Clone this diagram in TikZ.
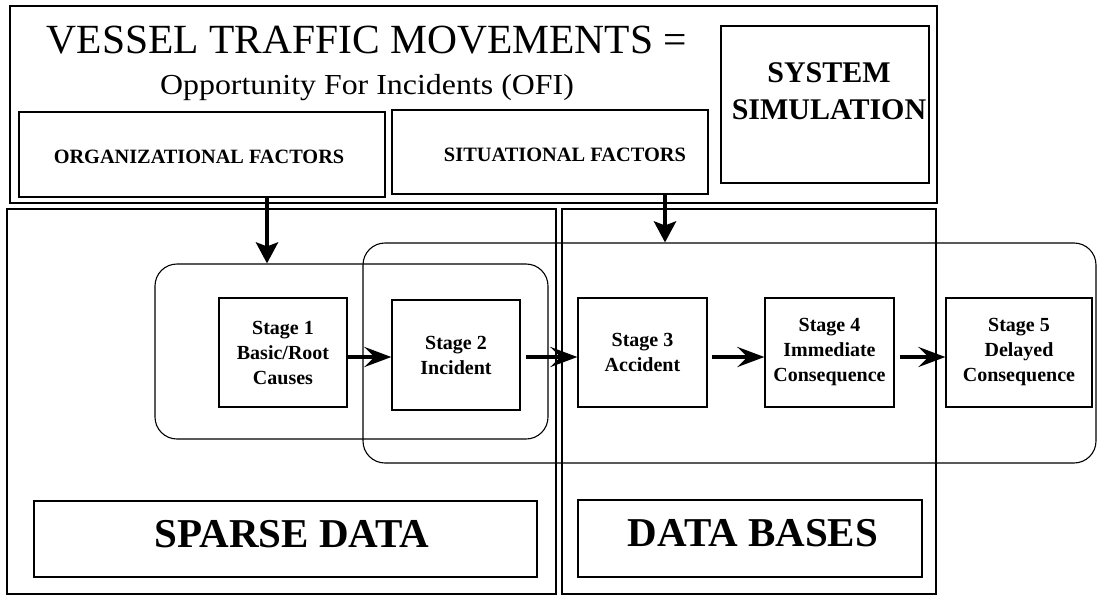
\documentclass[tikz,border=0pt]{standalone}
\usepackage{fontspec}
\usepackage{graphicx}
\setmainfont{Liberation Serif}
\usetikzlibrary{arrows.meta}
\begin{document}
\begin{tikzpicture}[x=1pt,y=-1pt,
  frame/.style={draw, line width=1.1pt, inner sep=0pt},
  group/.style={draw, line width=1.1pt, rounded corners=22pt, inner sep=0pt},
  stagebox/.style={draw, line width=1.2pt, inner sep=0pt, minimum height=109pt,
    align=center, font=\fontsize{20}{25}\selectfont\bfseries},
  caption/.style={inner sep=0pt, anchor=base},
  flow/.style={line width=4.5pt, -{Stealth[length=27pt,width=20pt,inset=10pt]}},
  feed/.style={line width=4.5pt, -{Stealth[length=21pt,width=22pt,inset=4pt]}}]
\useasboundingbox (0,0) rectangle (1098,597);

% upper panel
\node[frame, minimum width=927pt, minimum height=197pt] (top) at (473.5,104.5) {};
\node[caption, font=\fontsize{41.5}{41.5}\selectfont] (title) at (367,53) {VESSEL TRAFFIC MOVEMENTS =};
\node[caption, font=\fontsize{29}{29}\selectfont] (subtitle) at (367,94) {\scalebox{1.1}[1]{Opportunity For Incidents (OFI)}};
\node[frame, minimum width=208pt, minimum height=157pt] (sim) at (825,104.5) {};
\node[caption, font=\fontsize{30}{30}\selectfont\bfseries] (simA) at (829,82) {SYSTEM};
\node[caption, font=\fontsize{30}{30}\selectfont\bfseries] (simB) at (829,119) {SIMULATION};
\node[frame, minimum width=366pt, minimum height=85pt] (org) at (202,154.5) {};
\node[caption, font=\fontsize{20.3}{20.3}\selectfont\bfseries] (orgtext) at (199,163) {ORGANIZATIONAL FACTORS};
\node[frame, minimum width=316pt, minimum height=84pt] (sit) at (550,152) {};
\node[caption, font=\fontsize{20.4}{20.4}\selectfont\bfseries] (sittext) at (565,161) {SITUATIONAL FACTORS};

% lower panels
\node[frame, minimum width=549pt, minimum height=385pt] (left) at (281.5,401.5) {};
\node[frame, minimum width=374pt, minimum height=385pt] (right) at (749,401.5) {};
\node[frame, minimum width=503pt, minimum height=76pt] (sparse) at (285.5,539) {};
\node[caption, font=\fontsize{41}{41}\selectfont\bfseries] (sparsetext) at (292,547) {SPARSE DATA};
\node[frame, minimum width=344pt, minimum height=77pt] (dbase) at (750,538.5) {};
\node[caption, font=\fontsize{41}{41}\selectfont\bfseries] (dbasetext) at (753,546) {DATA BASES};

% stage groupings
\node[group, minimum width=393pt, minimum height=175pt] (grpA) at (351.5,351.5) {};
\node[group, minimum width=733pt, minimum height=220pt] (grpB) at (729.5,353) {};

% stages
\node[stagebox, minimum width=128pt] (s1) at (283,352.5) {Stage 1\\Basic/Root\\Causes};
\node[stagebox, minimum width=128pt, minimum height=110pt] (s2) at (456,355) {Stage 2\\Incident};
\node[stagebox, minimum width=129pt] (s3) at (642.5,352.5) {Stage 3\\Accident};
\node[stagebox, minimum width=129pt] (s4) at (829.5,352.5) {Stage 4\\Immediate\\Consequence};
\node[stagebox, minimum width=146pt] (s5) at (1019,352.5) {Stage 5\\Delayed\\Consequence};

% connectors
\coordinate (lane) at (0,357);
\coordinate (orgx) at (267,0);
\coordinate (sitx) at (665,0);
\draw[feed] (orgx |- org.south) -- (orgx |- grpA.north);
\draw[feed] (sitx |- sit.south) -- (sitx |- grpB.north);
\draw[flow] (s1.east |- lane) -- (s2.west |- lane);
\draw[flow] ([xshift=5pt]s2.east |- lane) -- (s3.west |- lane);
\draw[flow] ([xshift=4pt]s3.east |- lane) -- (s4.west |- lane);
\draw[flow] ([xshift=5pt]s4.east |- lane) -- (s5.west |- lane);
\end{tikzpicture}
\end{document}
